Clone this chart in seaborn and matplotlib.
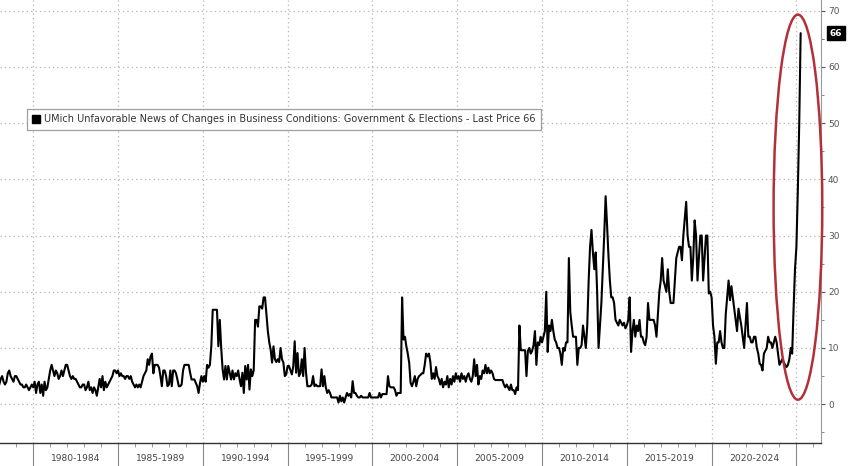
import numpy as np
import pandas as pd
import matplotlib
matplotlib.use('Agg')
import matplotlib.pyplot as plt
import matplotlib.transforms as mtransforms
from matplotlib.patches import Ellipse
from matplotlib.lines import Line2D
import seaborn as sns

# monthly readings, Jan 1978 .. Apr 2025
v_1978_1984 = [
    3.5, 4.5, 5, 4, 3.5, 4, 5.5, 6, 5, 4.5, 4, 5,
    5, 4.5, 4, 3.5, 3.5, 3, 3, 3.5, 3, 2.5, 3, 3.5,
    3, 4, 2, 3.5, 4, 2, 3.5, 1.5, 4, 2.5, 3, 4.5,
    6, 7, 6, 5, 6, 5.5, 4.5, 5, 6, 5, 6, 7,
    7, 6, 5, 4.5, 5, 4.5, 4.5, 4, 3.5, 3, 3, 3.5,
    3.5, 2.5, 3, 4, 2.5, 3, 2, 3, 2.5, 1.5, 3, 4.5,
    3, 5, 2.5, 4, 3, 3.5, 4, 4.5, 5, 6, 6, 5.5,
]
v_1985_1989 = [
    6, 5, 5.5, 5, 5, 4.5, 5, 5, 4.5, 5, 4, 3.5,
    3, 3.5, 3, 3.5, 3, 4, 5, 5.5, 6, 8, 7, 8.5,
    9, 5.5, 7, 7, 7, 6.5, 5, 3.2, 6, 6, 5, 3.2,
    3.5, 6, 3.2, 6, 6, 5.5, 4.4, 3.2, 3.2, 3.5, 6, 7,
    7, 7, 7, 5.6, 4.4, 4.4, 4.4, 3.8, 3.2, 2, 3.8, 5,
]
v_1990_1994 = [
    4, 5, 4, 7, 6.5, 7, 10.3, 16.8, 16.8, 16.8, 16.8, 10.3,
    15, 10, 6.2, 4.4, 6.8, 4.4, 6.8, 5.6, 4.4, 6, 4.4, 5.5,
    5, 6, 4.4, 3.2, 5.6, 2, 6.8, 4.4, 7, 2.6, 6.2, 5,
    6, 15, 15, 13.8, 17.4, 17.4, 17, 19, 19, 16, 13, 11,
    9.7, 7.4, 10.3, 8, 7.5, 8, 7.5, 10, 8, 7.4, 5, 5.3,
]
v_1995_1999 = [
    6.8, 6.8, 6, 5.3, 6.8, 11.2, 5.6, 9.1, 5, 5.5, 8, 5,
    10, 5.6, 3.2, 3.2, 3.2, 3.5, 5, 3.2, 3.5, 3.2, 3.2, 3.2,
    6.2, 3.2, 5, 3, 2, 2.5, 2, 1.2, 1.2, 1.2, 1.2, 1.2,
    0.3, 1.5, 0.5, 1.2, 0.3, 1.2, 2, 1.5, 1.8, 1.2, 4.1, 2,
    2, 1.5, 1.2, 1.2, 1.5, 1.2, 1.2, 1.2, 1.2, 1.2, 2, 1.2,
]
v_2000_2004 = [
    1.2, 1.2, 1.2, 1.2, 1.2, 2, 1.2, 1.8, 1.8, 1.8, 1.8, 5,
    3.2, 3, 3, 3, 2.5, 1.5, 2, 2, 2, 19, 11.5, 12,
    10.3, 9, 7.4, 3.8, 3.2, 4, 5, 3.2, 4.5, 5, 5.2, 5.5,
    5.5, 7, 9, 8.5, 9, 7.5, 4.5, 5.5, 4.5, 6.6, 5, 4.5,
    3.5, 4.5, 3, 4, 3.5, 5, 3, 4.5, 3.5, 5, 4, 5.5,
]
v_2005_2009 = [
    4.5, 5, 4, 5.5, 4.5, 5, 4, 5, 5.5, 4.5, 4, 5,
    8, 5, 7, 3.5, 5, 4.5, 6, 5.5, 7, 5.5, 6.5, 5.5,
    6, 5.5, 4.5, 4.3, 4.3, 4.3, 4.3, 4.3, 4.3, 3.5, 3, 3.5,
    3, 2.5, 3.5, 2.5, 2.5, 1.8, 3, 2.5, 14, 9.6, 9.6, 9.6,
    9.6, 5, 9.5, 10, 9, 9.5, 10.5, 13, 7, 11, 10.5, 12,
]
v_2010_2014 = [
    11, 12, 13, 20, 9.3, 14, 13, 15, 13, 11.5, 11, 10,
    10, 9, 7, 10, 9.5, 11, 11, 26, 16.4, 14, 12, 12,
    12, 7, 10, 10, 10.5, 14, 12, 10, 14, 22, 28, 31,
    27, 24, 27, 20, 10, 14, 18, 24, 30, 37, 32, 26.5,
    22, 19, 19, 18, 15, 14.5, 14, 15, 14.5, 14, 14.5, 13.5,
]
v_2015_2019 = [
    14, 15, 19, 9.3, 13, 15, 12, 14, 13, 15, 12, 12,
    11, 10.5, 12, 18, 15, 15, 15, 15, 14, 12, 16, 20,
    22, 26, 22, 21, 20, 24, 20, 18, 18, 18, 22, 26,
    27, 28, 28, 25.6, 30, 33, 36, 30, 28, 28, 22, 26,
    32.7, 30, 22, 26, 30, 30, 22, 26, 30, 30, 19.7, 20,
]
v_2020_2025 = [
    19, 14, 12, 7.2, 11, 11, 13, 11, 10, 10, 16, 19,
    22, 18.5, 21, 19, 17, 15, 13, 17, 15.5, 14, 12, 10,
    14, 18, 12, 12, 11, 11, 12, 12, 10, 9, 7.2, 7,
    6, 9, 9.5, 10, 12, 11, 11, 10, 11, 12, 11, 9,
    7, 7.5, 8, 7.5, 7, 6.6, 7, 8, 10, 9, 17, 24,
    28, 38, 50, 66,
]

period_labels = ['1980-1984', '1985-1989', '1990-1994', '1995-1999', '2000-2004',
                 '2005-2009', '2010-2014', '2015-2019', '2020-2024']
period_starts = [1980, 1985, 1990, 1995, 2000, 2005, 2010, 2015, 2020]
y_ticks = [0, 10, 20, 30, 40, 50, 60, 70]
last_price = 66
legend_text = ('UMich Unfavorable News of Changes in Business Conditions: '
               'Government & Elections - Last Price 66')

values = (v_1978_1984 + v_1985_1989 + v_1990_1994 + v_1995_1999 + v_2000_2004
          + v_2005_2009 + v_2010_2014 + v_2015_2019 + v_2020_2025)
dates = pd.date_range('1978-01-01', periods=len(values), freq='MS')
df = pd.DataFrame({'date': dates, 'value': values})
df['t'] = df['date'].dt.year + (df['date'].dt.month - 1) / 12

sns.set_style('white')
plt.rcParams['font.family'] = ['DejaVu Sans']

fig = plt.figure(figsize=(8.48, 4.66), dpi=100)
ax = fig.add_axes([0, 23 / 466, 821 / 848, 443 / 466])
sns.lineplot(data=df, x='t', y='value', color='black', lw=1.5, ax=ax, legend=False)

ax.set_xlim(1978.04, 2026.45)
ax.set_ylim(-6.9, 71.9)
ax.set_xlabel('')
ax.set_ylabel('')

# right axis
ax.yaxis.tick_right()
ax.set_yticks(y_ticks)
ax.set_yticks([t - 5 for t in y_ticks] + [65], minor=True)
ax.tick_params(axis='y', which='major', length=3, width=0.8, labelsize=6.5,
               colors='#555555', pad=2, right=True, left=False)
ax.tick_params(axis='y', which='minor', length=2, width=0.6, colors='#777777',
               right=True, left=False)

# bottom axis
ax.set_xticks(period_starts + [2025])
ax.set_xticklabels([])
ax.set_xticks(range(1979, 2027), minor=True)
ax.tick_params(axis='x', which='major', length=17, width=0.8, colors='#888888',
               bottom=True, direction='out')
ax.tick_params(axis='x', which='minor', length=3, width=0.6, colors='#888888',
               bottom=True, direction='out')

trans = mtransforms.blended_transform_factory(ax.transData, ax.transAxes)
for start, lab in zip(period_starts, period_labels):
    ax.text(start + 2.5, -0.034, lab, transform=trans, ha='center', va='center',
            fontsize=6.6, color='#444444')

ax.grid(True, which='major', linestyle=(0, (1, 2.5)), color='#b5b5b5', lw=0.9)

for side in ['top', 'left']:
    ax.spines[side].set_visible(False)
ax.spines['bottom'].set_color('#333333')
ax.spines['bottom'].set_linewidth(1.0)
ax.spines['right'].set_color('#999999')
ax.spines['right'].set_linewidth(0.8)

# red circle around the spike
ax.add_patch(Ellipse((2025.09, 35.05), width=2.87, height=68.5, fill=False,
                     ec='#b3303a', lw=1.8, clip_on=False, zorder=5))

# last price tag
ax.annotate(str(last_price), xy=(1.0, last_price), xycoords=('axes fraction', 'data'),
            xytext=(6, 0), textcoords='offset points', ha='left', va='center',
            color='white', fontsize=6.5, fontweight='bold',
            bbox=dict(boxstyle='square,pad=0.3', fc='black', ec='black'),
            annotation_clip=False)

handle = Line2D([], [], marker='s', color='black', ls='none', markersize=5.5)
leg = ax.legend([handle], [legend_text], loc='upper left', bbox_to_anchor=(0.033, 0.754),
                frameon=True, fancybox=False, edgecolor='#888888', fontsize=7.0,
                handlelength=0.8, handletextpad=0.4, borderpad=0.55, borderaxespad=0)
leg.get_frame().set_linewidth(0.9)
for t in leg.get_texts():
    t.set_color('#333333')

fig.savefig('out.png', dpi=100)
